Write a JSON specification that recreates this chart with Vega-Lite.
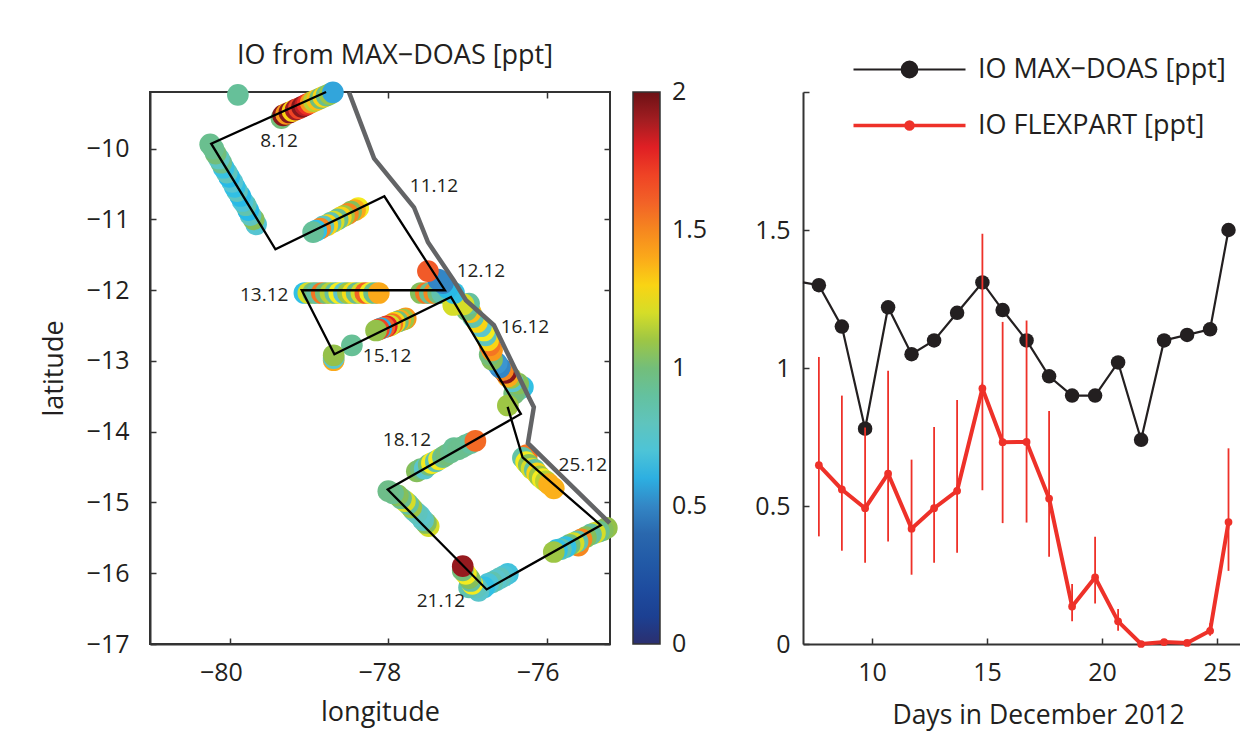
{
"$schema":"https://vega.github.io/schema/vega-lite/v6.json",
"background":"white",
"padding":{"left":39,"top":40,"right":0,"bottom":12},
"config":{
 "font":"Open Sans",
 "axis":{"labelFont":"Open Sans","titleFont":"Open Sans","labelFontSize":25,"titleFontSize":27,"titleFontWeight":"normal","labelColor":"#231f20","titleColor":"#231f20","tickColor":"#333333","domainColor":"#333333","grid":false,"tickSize":-6,"tickWidth":1.5,"domainWidth":2,"labelFlush":false,"labelOverlap":false,"labelBound":false},
 "legend":{"labelFont":"Open Sans"},
 "title":{"font":"Open Sans","fontWeight":"normal","fontSize":27,"color":"#231f20"}
},
"spacing":45,
"datasets":{
 "obs":[
 {"lon":-79.90,"lat":-9.24,"io":0.92},
 {"lon":-79.35,"lat":-9.57,"io":1.0},{"lon":-79.33,"lat":-9.53,"io":1.95},{"lon":-79.29,"lat":-9.51,"io":1.45},{"lon":-79.25,"lat":-9.49,"io":1.95},{"lon":-79.21,"lat":-9.47,"io":1.3},{"lon":-79.17,"lat":-9.45,"io":1.9},{"lon":-79.13,"lat":-9.43,"io":1.7},{"lon":-79.09,"lat":-9.41,"io":1.95},{"lon":-79.05,"lat":-9.39,"io":1.85},{"lon":-79.02,"lat":-9.37,"io":1.75},{"lon":-78.98,"lat":-9.35,"io":1.45},{"lon":-78.94,"lat":-9.33,"io":1.15},{"lon":-78.90,"lat":-9.31,"io":1.35},{"lon":-78.86,"lat":-9.29,"io":1.0},{"lon":-78.82,"lat":-9.27,"io":1.3},{"lon":-78.78,"lat":-9.25,"io":0.95},{"lon":-78.74,"lat":-9.23,"io":1.1},{"lon":-78.70,"lat":-9.205,"io":0.58},
 {"lon":-79.67,"lat":-11.07,"io":0.72},{"lon":-79.70,"lat":-11.00,"io":1.05},{"lon":-79.74,"lat":-10.94,"io":0.78},{"lon":-79.77,"lat":-10.87,"io":0.62},{"lon":-79.80,"lat":-10.80,"io":0.85},{"lon":-79.84,"lat":-10.74,"io":0.70},{"lon":-79.87,"lat":-10.67,"io":0.62},{"lon":-79.91,"lat":-10.60,"io":0.78},{"lon":-79.94,"lat":-10.54,"io":0.65},{"lon":-79.97,"lat":-10.47,"io":0.72},{"lon":-80.01,"lat":-10.40,"io":0.62},{"lon":-80.04,"lat":-10.34,"io":0.80},{"lon":-80.08,"lat":-10.27,"io":0.66},{"lon":-80.11,"lat":-10.20,"io":0.95},{"lon":-80.14,"lat":-10.14,"io":0.78},{"lon":-80.18,"lat":-10.07,"io":1.0},{"lon":-80.21,"lat":-10.00,"io":0.95},{"lon":-80.25,"lat":-9.94,"io":0.95},
 {"lon":-78.38,"lat":-10.84,"io":1.25},{"lon":-78.42,"lat":-10.87,"io":1.4},{"lon":-78.47,"lat":-10.89,"io":1.05},{"lon":-78.51,"lat":-10.92,"io":1.5},{"lon":-78.56,"lat":-10.95,"io":1.1},{"lon":-78.60,"lat":-10.97,"io":1.3},{"lon":-78.64,"lat":-11.00,"io":0.95},{"lon":-78.69,"lat":-11.03,"io":1.2},{"lon":-78.73,"lat":-11.05,"io":0.85},{"lon":-78.77,"lat":-11.08,"io":1.3},{"lon":-78.82,"lat":-11.10,"io":0.8},{"lon":-78.86,"lat":-11.13,"io":1.5},{"lon":-78.91,"lat":-11.16,"io":0.65},{"lon":-78.95,"lat":-11.18,"io":0.92},
 {"lon":-79.06,"lat":-12.04,"io":0.65},{"lon":-79.01,"lat":-12.04,"io":1.2},{"lon":-78.95,"lat":-12.04,"io":1.0},{"lon":-78.90,"lat":-12.04,"io":0.9},{"lon":-78.84,"lat":-12.04,"io":1.55},{"lon":-78.79,"lat":-12.04,"io":1.0},{"lon":-78.73,"lat":-12.04,"io":1.15},{"lon":-78.67,"lat":-12.04,"io":0.9},{"lon":-78.62,"lat":-12.04,"io":1.25},{"lon":-78.56,"lat":-12.04,"io":0.75},{"lon":-78.51,"lat":-12.04,"io":1.1},{"lon":-78.45,"lat":-12.04,"io":1.28},{"lon":-78.40,"lat":-12.04,"io":0.95},{"lon":-78.34,"lat":-12.04,"io":1.2},{"lon":-78.29,"lat":-12.04,"io":1.6},{"lon":-78.23,"lat":-12.04,"io":1.25},{"lon":-78.18,"lat":-12.04,"io":0.95},{"lon":-78.12,"lat":-12.04,"io":1.4},
 {"lon":-77.78,"lat":-12.40,"io":1.45},{"lon":-77.81,"lat":-12.415,"io":1.1},{"lon":-77.85,"lat":-12.43,"io":1.4},{"lon":-77.88,"lat":-12.445,"io":1.0},{"lon":-77.92,"lat":-12.46,"io":1.3},{"lon":-77.95,"lat":-12.48,"io":1.55},{"lon":-77.98,"lat":-12.50,"io":1.2},{"lon":-78.02,"lat":-12.51,"io":1.8},{"lon":-78.05,"lat":-12.525,"io":1.6},{"lon":-78.09,"lat":-12.54,"io":0.6},{"lon":-78.12,"lat":-12.555,"io":1.7},{"lon":-78.155,"lat":-12.57,"io":1.08},
 {"lon":-78.46,"lat":-12.78,"io":0.93},{"lon":-78.69,"lat":-12.99,"io":1.4},{"lon":-78.69,"lat":-12.96,"io":0.75},{"lon":-78.69,"lat":-12.92,"io":1.08},
 {"lon":-77.59,"lat":-12.04,"io":1.05},{"lon":-77.525,"lat":-12.04,"io":1.55},{"lon":-77.475,"lat":-12.04,"io":0.95},{"lon":-77.42,"lat":-12.04,"io":1.5},{"lon":-77.37,"lat":-12.04,"io":1.0},{"lon":-77.32,"lat":-12.04,"io":0.85},
 {"lon":-76.30,"lat":-13.37,"io":0.65},{"lon":-76.36,"lat":-13.41,"io":0.8},{"lon":-76.41,"lat":-13.46,"io":1.0},{"lon":-76.36,"lat":-13.32,"io":1.05},{"lon":-76.43,"lat":-13.29,"io":0.75},{"lon":-76.45,"lat":-13.24,"io":1.1},{"lon":-76.49,"lat":-13.22,"io":1.4},{"lon":-76.515,"lat":-13.17,"io":1.95},{"lon":-76.55,"lat":-13.13,"io":1.5},{"lon":-76.59,"lat":-13.09,"io":0.5},{"lon":-76.63,"lat":-13.03,"io":0.55},{"lon":-76.69,"lat":-12.98,"io":1.05},{"lon":-76.72,"lat":-12.91,"io":1.0},{"lon":-76.69,"lat":-12.85,"io":1.45},{"lon":-76.72,"lat":-12.78,"io":1.55},{"lon":-76.74,"lat":-12.71,"io":1.3},{"lon":-76.77,"lat":-12.64,"io":0.8},{"lon":-76.79,"lat":-12.57,"io":1.25},{"lon":-76.83,"lat":-12.51,"io":0.75},{"lon":-76.88,"lat":-12.45,"io":1.3},{"lon":-76.93,"lat":-12.38,"io":0.85},{"lon":-76.96,"lat":-12.31,"io":1.35},{"lon":-77.01,"lat":-12.28,"io":1.0},{"lon":-76.98,"lat":-12.19,"io":0.9},{"lon":-77.05,"lat":-12.20,"io":1.2},{"lon":-77.18,"lat":-12.21,"io":1.2},{"lon":-77.17,"lat":-12.04,"io":0.65},{"lon":-77.25,"lat":-11.97,"io":0.62},{"lon":-77.31,"lat":-11.90,"io":0.5},{"lon":-77.37,"lat":-11.85,"io":0.5},{"lon":-77.50,"lat":-11.73,"io":1.62},
 {"lon":-76.49,"lat":-13.63,"io":1.1},
 {"lon":-77.64,"lat":-14.56,"io":1.05},{"lon":-77.59,"lat":-14.53,"io":1.0},{"lon":-77.54,"lat":-14.52,"io":0.75},{"lon":-77.49,"lat":-14.47,"io":1.0},{"lon":-77.45,"lat":-14.445,"io":1.25},{"lon":-77.40,"lat":-14.42,"io":0.85},{"lon":-77.36,"lat":-14.39,"io":1.25},{"lon":-77.31,"lat":-14.36,"io":0.95},{"lon":-77.27,"lat":-14.33,"io":1.0},{"lon":-77.21,"lat":-14.29,"io":0.95},{"lon":-77.17,"lat":-14.23,"io":0.93},{"lon":-77.12,"lat":-14.25,"io":0.95},{"lon":-77.07,"lat":-14.22,"io":0.95},{"lon":-77.02,"lat":-14.19,"io":0.95},{"lon":-76.96,"lat":-14.16,"io":0.9},{"lon":-76.90,"lat":-14.13,"io":1.58},
 {"lon":-77.49,"lat":-15.335,"io":1.2},{"lon":-77.525,"lat":-15.29,"io":1.05},{"lon":-77.56,"lat":-15.25,"io":0.8},{"lon":-77.60,"lat":-15.19,"io":0.75},{"lon":-77.64,"lat":-15.15,"io":0.8},{"lon":-77.68,"lat":-15.11,"io":0.8},{"lon":-77.71,"lat":-15.07,"io":1.1},{"lon":-77.75,"lat":-15.02,"io":0.9},{"lon":-77.79,"lat":-14.98,"io":1.2},{"lon":-77.84,"lat":-14.94,"io":0.95},{"lon":-77.88,"lat":-14.90,"io":1.05},{"lon":-77.94,"lat":-14.87,"io":0.95},{"lon":-78.00,"lat":-14.84,"io":0.97},
 {"lon":-76.49,"lat":-16.01,"io":0.68},{"lon":-76.54,"lat":-16.04,"io":0.7},{"lon":-76.59,"lat":-16.07,"io":0.8},{"lon":-76.64,"lat":-16.10,"io":0.75},{"lon":-76.69,"lat":-16.13,"io":0.85},{"lon":-76.74,"lat":-16.15,"io":0.7},{"lon":-76.79,"lat":-16.20,"io":0.65},{"lon":-76.86,"lat":-16.25,"io":0.75},{"lon":-76.89,"lat":-16.20,"io":0.8},{"lon":-76.98,"lat":-16.20,"io":0.85},{"lon":-76.94,"lat":-16.15,"io":1.25},{"lon":-76.96,"lat":-16.11,"io":0.9},{"lon":-76.98,"lat":-16.07,"io":1.05},{"lon":-77.02,"lat":-16.01,"io":1.25},{"lon":-77.06,"lat":-15.96,"io":1.0},{"lon":-77.06,"lat":-15.90,"io":1.92},
 {"lon":-75.60,"lat":-15.61,"io":1.5},{"lon":-75.24,"lat":-15.36,"io":1.08},{"lon":-75.29,"lat":-15.39,"io":1.05},{"lon":-75.34,"lat":-15.41,"io":0.95},{"lon":-75.39,"lat":-15.43,"io":1.2},{"lon":-75.44,"lat":-15.45,"io":0.9},{"lon":-75.505,"lat":-15.49,"io":1.05},{"lon":-75.56,"lat":-15.52,"io":1.5},{"lon":-75.61,"lat":-15.55,"io":0.85},{"lon":-75.66,"lat":-15.575,"io":1.2},{"lon":-75.71,"lat":-15.60,"io":1.0},{"lon":-75.76,"lat":-15.63,"io":0.65},{"lon":-75.82,"lat":-15.66,"io":0.85},{"lon":-75.87,"lat":-15.67,"io":0.65},{"lon":-75.91,"lat":-15.70,"io":1.1},
 {"lon":-76.25,"lat":-14.33,"io":1.55},{"lon":-76.30,"lat":-14.37,"io":0.88},{"lon":-76.26,"lat":-14.43,"io":1.25},{"lon":-76.225,"lat":-14.47,"io":1.05},{"lon":-76.19,"lat":-14.52,"io":1.2},{"lon":-76.15,"lat":-14.54,"io":0.9},{"lon":-76.12,"lat":-14.59,"io":1.3},{"lon":-76.09,"lat":-14.63,"io":1.1},{"lon":-76.05,"lat":-14.67,"io":1.25},{"lon":-76.01,"lat":-14.70,"io":1.15},{"lon":-75.97,"lat":-14.74,"io":1.38},{"lon":-75.91,"lat":-14.80,"io":1.38}
 ],
 "cruise":[
 {"seq":1,"lon":-78.786,"lat":-9.2},{"seq":2,"lon":-80.237,"lat":-9.93},{"seq":3,"lon":-79.426,"lat":-11.422},{"seq":4,"lon":-78.05,"lat":-10.674},{"seq":5,"lon":-77.285,"lat":-12.001},{"seq":6,"lon":-79.093,"lat":-12.001},{"seq":7,"lon":-78.681,"lat":-12.905},{"seq":8,"lon":-77.209,"lat":-12.096},{"seq":9,"lon":-76.326,"lat":-13.749},{"seq":10,"lon":-78.008,"lat":-14.816},{"seq":11,"lon":-76.758,"lat":-16.229},{"seq":12,"lon":-75.316,"lat":-15.321},{"seq":13,"lon":-76.304,"lat":-14.364},{"seq":14,"lon":-76.493,"lat":-13.65}
 ],
 "coast":[
 {"seq":1,"lon":-78.496,"lat":-9.205},{"seq":2,"lon":-78.18,"lat":-10.137},{"seq":3,"lon":-77.676,"lat":-10.829},{"seq":4,"lon":-77.499,"lat":-11.323},{"seq":5,"lon":-77.175,"lat":-11.86},{"seq":6,"lon":-77.02,"lat":-12.143},{"seq":7,"lon":-76.666,"lat":-12.496},{"seq":8,"lon":-76.225,"lat":-13.513},{"seq":9,"lon":-76.162,"lat":-13.654},{"seq":10,"lon":-76.237,"lat":-14.162},{"seq":11,"lon":-75.203,"lat":-15.292}
 ],
 "dates":[
 {"label":"8.12","lon":-79.379,"lat":-9.897},{"label":"11.12","lon":-77.423,"lat":-10.532},{"label":"12.12","lon":-76.83,"lat":-11.733},{"label":"13.12","lon":-79.568,"lat":-12.072},{"label":"15.12","lon":-78.016,"lat":-12.934},{"label":"16.12","lon":-76.275,"lat":-12.524},{"label":"18.12","lon":-77.764,"lat":-14.12},{"label":"21.12","lon":-77.335,"lat":-16.394},{"label":"25.12","lon":-75.543,"lat":-14.473}
 ],
 "series":[
 {"day":7,"value":1.31,"series":"IO MAX−DOAS [ppt]"},
 {"day":7.69,"value":1.30,"series":"IO MAX−DOAS [ppt]"},{"day":8.69,"value":1.15,"series":"IO MAX−DOAS [ppt]"},{"day":9.7,"value":0.78,"series":"IO MAX−DOAS [ppt]"},{"day":10.7,"value":1.22,"series":"IO MAX−DOAS [ppt]"},{"day":11.72,"value":1.05,"series":"IO MAX−DOAS [ppt]"},{"day":12.7,"value":1.10,"series":"IO MAX−DOAS [ppt]"},{"day":13.7,"value":1.20,"series":"IO MAX−DOAS [ppt]"},{"day":14.8,"value":1.31,"series":"IO MAX−DOAS [ppt]"},{"day":15.68,"value":1.21,"series":"IO MAX−DOAS [ppt]"},{"day":16.72,"value":1.10,"series":"IO MAX−DOAS [ppt]"},{"day":17.7,"value":0.97,"series":"IO MAX−DOAS [ppt]"},{"day":18.7,"value":0.90,"series":"IO MAX−DOAS [ppt]"},{"day":19.7,"value":0.90,"series":"IO MAX−DOAS [ppt]"},{"day":20.7,"value":1.02,"series":"IO MAX−DOAS [ppt]"},{"day":21.7,"value":0.74,"series":"IO MAX−DOAS [ppt]"},{"day":22.7,"value":1.10,"series":"IO MAX−DOAS [ppt]"},{"day":23.7,"value":1.12,"series":"IO MAX−DOAS [ppt]"},{"day":24.7,"value":1.14,"series":"IO MAX−DOAS [ppt]"},{"day":25.5,"value":1.50,"series":"IO MAX−DOAS [ppt]"},
 {"day":7.69,"value":0.648,"lo":0.39,"hi":1.04,"series":"IO FLEXPART [ppt]"},{"day":8.69,"value":0.56,"lo":0.338,"hi":0.90,"series":"IO FLEXPART [ppt]"},{"day":9.7,"value":0.492,"lo":0.294,"hi":0.784,"series":"IO FLEXPART [ppt]"},{"day":10.7,"value":0.617,"lo":0.371,"hi":0.99,"series":"IO FLEXPART [ppt]"},{"day":11.72,"value":0.418,"lo":0.251,"hi":0.668,"series":"IO FLEXPART [ppt]"},{"day":12.7,"value":0.492,"lo":0.294,"hi":0.786,"series":"IO FLEXPART [ppt]"},{"day":13.7,"value":0.555,"lo":0.331,"hi":0.884,"series":"IO FLEXPART [ppt]"},{"day":14.8,"value":0.926,"lo":0.557,"hi":1.486,"series":"IO FLEXPART [ppt]"},{"day":15.68,"value":0.731,"lo":0.438,"hi":1.167,"series":"IO FLEXPART [ppt]"},{"day":16.72,"value":0.732,"lo":0.44,"hi":1.172,"series":"IO FLEXPART [ppt]"},{"day":17.7,"value":0.527,"lo":0.316,"hi":0.844,"series":"IO FLEXPART [ppt]"},{"day":18.7,"value":0.136,"lo":0.082,"hi":0.217,"series":"IO FLEXPART [ppt]"},{"day":19.7,"value":0.241,"lo":0.147,"hi":0.389,"series":"IO FLEXPART [ppt]"},{"day":20.7,"value":0.082,"lo":0.048,"hi":0.127,"series":"IO FLEXPART [ppt]"},{"day":21.7,"value":0.0,"lo":0.0,"hi":0.0,"series":"IO FLEXPART [ppt]"},{"day":22.7,"value":0.007,"lo":0.004,"hi":0.011,"series":"IO FLEXPART [ppt]"},{"day":23.7,"value":0.004,"lo":0.002,"hi":0.006,"series":"IO FLEXPART [ppt]"},{"day":24.7,"value":0.048,"lo":0.03,"hi":0.075,"series":"IO FLEXPART [ppt]"},{"day":25.5,"value":0.442,"lo":0.265,"hi":0.709,"series":"IO FLEXPART [ppt]"}
 ]
},
"hconcat":[
 {
  "width":460,"height":552,
  "view":{"stroke":"#333333","strokeWidth":2},
  "title":{"text":"IO from MAX−DOAS [ppt]","dx":15,"offset":12},
  "layer":[
   {"data":{"name":"obs"},"mark":{"type":"circle","size":470,"opacity":1,"clip":false},
    "encoding":{
     "x":{"field":"lon","type":"quantitative","scale":{"domain":[-81.01,-75.2],"nice":false,"zero":false},"axis":{"values":[-80,-78,-76],"format":"d","title":"longitude","labelPadding":22,"labelOffset":-9,"titlePadding":14}},
     "y":{"field":"lat","type":"quantitative","scale":{"domain":[-17,-9.2],"nice":false,"zero":false},"axis":{"values":[-17,-16,-15,-14,-13,-12,-11,-10],"format":"d","title":"latitude","labelPadding":27,"titlePadding":18}},
     "color":{"field":"io","type":"quantitative",
      "scale":{"domain":[0,0.08,0.2,0.4,0.55,0.63,0.73,0.82,0.975,1.07,1.17,1.25,1.38,1.515,1.62,1.78,1.9,2],
       "range":["#2b2f6f","#1b3e8f","#1e4c9f","#2a68ae","#3b95d0","#27bfe9","#5bc5d0","#62c4b7","#6fbd87","#8fbf4d","#c4d52d","#f4eb1f","#fbb01a","#f58220","#f15a29","#ed2024","#a11d21","#6d1115"]},
      "legend":{"title":null,"type":"gradient","orient":"none","legendX":483,"legendY":0,"gradientLength":552,"gradientThickness":27,"gradientStrokeColor":"#333333","gradientStrokeWidth":1.5,"values":[0,0.5,1,1.5,2],"labelFontSize":25,"labelColor":"#231f20","labelOverlap":false,"labelOffset":12,"format":"~g",
       "encoding":{"labels":{"baseline":{"value":"middle"}}}}}
    }},
   {"data":{"name":"cruise"},"mark":{"type":"line","color":"#000000","strokeWidth":2.3,"clip":false},
    "encoding":{
     "x":{"field":"lon","type":"quantitative","axis":{"orient":"top","values":[-80,-78,-76],"labels":false,"title":null,"domain":false}},
     "y":{"field":"lat","type":"quantitative","axis":{"orient":"right","values":[-17,-16,-15,-14,-13,-12,-11,-10],"labels":false,"title":null,"domain":false}},
     "order":{"field":"seq"}}},
   {"data":{"name":"coast"},"mark":{"type":"line","color":"#636466","strokeWidth":4.5,"clip":false},
    "encoding":{"x":{"field":"lon","type":"quantitative","axis":null},"y":{"field":"lat","type":"quantitative","axis":null},"order":{"field":"seq"}}},
   {"data":{"name":"dates"},"mark":{"type":"text","fontSize":19,"color":"#231f20","font":"Open Sans"},
    "encoding":{"x":{"field":"lon","type":"quantitative","axis":null},"y":{"field":"lat","type":"quantitative","axis":null},"text":{"field":"label"}}}
  ],
  "resolve":{"scale":{"color":"independent"},"axis":{"x":"independent","y":"independent"}}
 },
 {
  "width":437,"height":552,
  "view":{"stroke":null},
  "data":{"name":"series"},
  "encoding":{
   "x":{"field":"day","type":"quantitative","scale":{"domain":[7,26],"nice":false,"zero":false},"axis":{"values":[10,15,20,25],"format":"d","title":"Days in December 2012","titleX":235,"titleFontSize":26.5,"labelPadding":22,"titlePadding":17}},
   "y":{"field":"value","type":"quantitative","scale":{"domain":[0,2],"nice":false},"axis":{"values":[0,0.5,1,1.5,2],"title":null,"labelExpr":"datum.value == 2 ? '' : '' + datum.value","labelPadding":19}},
   "color":{"field":"series","type":"nominal","scale":{"domain":["IO MAX−DOAS [ppt]","IO FLEXPART [ppt]"],"range":["#231f20","#ee3129"]},
    "legend":{"title":null,"orient":"none","legendX":746,"legendY":-36,"symbolSize":2500,"labelFontSize":27,"labelColor":"#231f20","labelOffset":55,"rowPadding":28,"padding":0,"labelLimit":320,
     "encoding":{"symbols":{
       "shape":{"value":{"signal":"datum.value == 'IO FLEXPART [ppt]' ? 'M-2.24,0H-0.14A0.14,0.14 0 1 1 0.14,0A0.14,0.14 0 1 1 -0.14,0M0.14,0H2.24' : 'M-2.24,0H-0.32A0.32,0.32 0 1 1 0.32,0A0.32,0.32 0 1 1 -0.32,0M0.32,0H2.24'"}},
       "fill":{"value":{"signal":"datum.value == 'IO FLEXPART [ppt]' ? '#ee3129' : '#231f20'"}},
       "stroke":{"value":{"signal":"datum.value == 'IO FLEXPART [ppt]' ? '#ee3129' : '#231f20'"}},
       "strokeWidth":{"value":{"signal":"datum.value == 'IO FLEXPART [ppt]' ? 3.5 : 1.8"}}
     }}}}
  },
  "layer":[
   {"transform":[{"filter":"datum.series == 'IO MAX−DOAS [ppt]'"}],"mark":{"type":"line","strokeWidth":2.2}},
   {"transform":[{"filter":"datum.series == 'IO MAX−DOAS [ppt]' && datum.day > 7"}],"mark":{"type":"circle","size":210,"opacity":1}},
   {"transform":[{"filter":"datum.series == 'IO FLEXPART [ppt]'"}],"mark":{"type":"rule","strokeWidth":1.8},"encoding":{"y":{"field":"lo","type":"quantitative"},"y2":{"field":"hi"}}},
   {"transform":[{"filter":"datum.series == 'IO FLEXPART [ppt]'"}],"mark":{"type":"line","strokeWidth":4}},
   {"transform":[{"filter":"datum.series == 'IO FLEXPART [ppt]'"}],"mark":{"type":"circle","size":60,"opacity":1}}
  ]
 }
]
}
